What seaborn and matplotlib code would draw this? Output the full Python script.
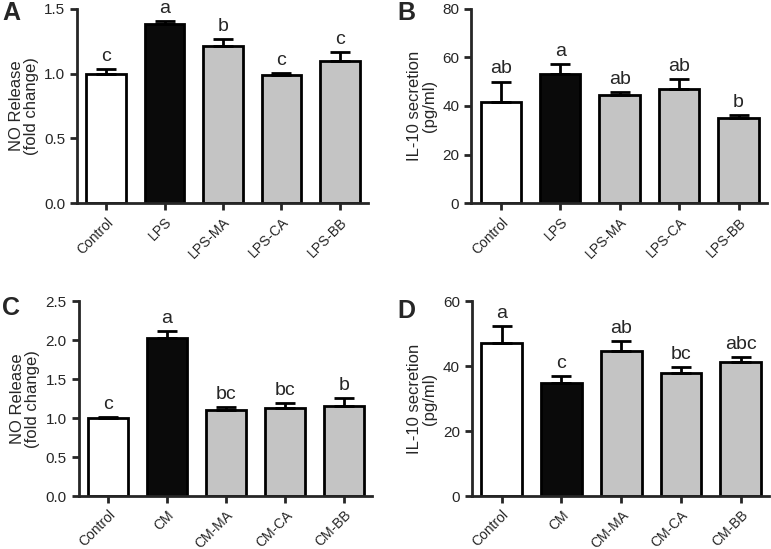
import matplotlib
matplotlib.use("Agg")
import matplotlib.pyplot as plt
import seaborn as sns
import pandas as pd

# panel A / B groups
groups_lps = ["Control", "LPS", "LPS-MA", "LPS-CA", "LPS-BB"]
groups_cm = ["Control", "CM", "CM-MA", "CM-CA", "CM-BB"]

# A: NO release (LPS)
no_lps_mean = [1.00, 1.38, 1.21, 0.99, 1.10]
no_lps_sem = [0.035, 0.027, 0.057, 0.013, 0.068]
no_lps_sig = ["c", "a", "b", "c", "c"]

# B: IL-10 (LPS)
il10_lps_mean = [41.5, 53.3, 44.7, 46.9, 34.9]
il10_lps_sem = [8.5, 4.1, 1.0, 4.2, 1.4]
il10_lps_sig = ["ab", "a", "ab", "ab", "b"]

# C: NO release (CM)
no_cm_mean = [1.00, 2.03, 1.10, 1.13, 1.16]
no_cm_sem = [0.015, 0.09, 0.04, 0.06, 0.10]
no_cm_sig = ["c", "a", "bc", "bc", "b"]

# D: IL-10 (CM)
il10_cm_mean = [47.1, 34.9, 44.5, 37.9, 41.2]
il10_cm_sem = [5.2, 1.9, 3.2, 1.8, 1.7]
il10_cm_sig = ["a", "c", "ab", "bc", "abc"]

bar_colors = ["white", "#0a0a0a", "#c4c4c4", "#c4c4c4", "#c4c4c4"]

sns.set_style("ticks")
plt.rcParams["font.family"] = ["Liberation Sans", "DejaVu Sans"]

fig = plt.figure(figsize=(7.71, 5.49), dpi=100)


def panel(rect, groups, means, sems, sigs, ylim, yticks, ylabel, letter, letter_pos):
    ax = fig.add_axes(rect)
    df = pd.DataFrame({"group": groups, "value": means})
    sns.barplot(data=df, x="group", y="value", hue="group", palette=bar_colors,
                order=groups, hue_order=groups, legend=False, width=0.68,
                edgecolor="black", linewidth=2, errorbar=None, ax=ax)
    # upper error bars only
    ax.errorbar(range(len(groups)), means, yerr=[[0] * len(sems), sems],
                fmt="none", ecolor="black", elinewidth=2, capsize=7.5,
                capthick=2, zorder=1)
    for i, (m, s, t) in enumerate(zip(means, sems, sigs)):
        ax.annotate(t, (i, m + s), xytext=(0, 3), textcoords="offset points",
                    ha="center", va="bottom", fontsize=14, annotation_clip=False)
    ax.set_xlim(-0.5, 4.48)
    ax.set_ylim(*ylim)
    ax.set_yticks(yticks)
    ax.set_xlabel("")
    ax.set_ylabel(ylabel, fontsize=12, linespacing=1.0)
    sns.despine(ax=ax)
    for sp in ["left", "bottom"]:
        ax.spines[sp].set_linewidth(2)
    ax.tick_params(axis="both", width=2, length=5, labelsize=11)
    ax.set_xticks(range(len(groups)))
    ax.set_xticklabels(groups, rotation=45, ha="right", rotation_mode="anchor",
                       fontsize=10)
    fig.text(letter_pos[0], letter_pos[1], letter, fontsize=18, fontweight="bold",
             ha="left", va="top")
    return ax


yfmt_one = lambda ax: ax.set_yticklabels([f"{v:.1f}" for v in ax.get_yticks()])

ax = panel([0.1, 0.630, 0.377, 0.354], groups_lps, no_lps_mean, no_lps_sem,
           no_lps_sig, (0, 1.5), [0, 0.5, 1.0, 1.5], "NO Release\n(fold change)",
           "A", (0.003, 0.998))
yfmt_one(ax)
panel([0.611, 0.630, 0.384, 0.354], groups_lps, il10_lps_mean, il10_lps_sem,
      il10_lps_sig, (0, 80), [0, 20, 40, 60, 80], "IL-10 secretion\n(pg/ml)",
      "B", (0.515, 0.998))
ax = panel([0.102, 0.0965, 0.381, 0.355], groups_cm, no_cm_mean, no_cm_sem,
           no_cm_sig, (0, 2.5), [0, 0.5, 1.0, 1.5, 2.0, 2.5],
           "NO Release\n(fold change)", "C", (0.003, 0.46))
yfmt_one(ax)
panel([0.612, 0.0965, 0.386, 0.355], groups_cm, il10_cm_mean, il10_cm_sem,
      il10_cm_sig, (0, 60), [0, 20, 40, 60], "IL-10 secretion\n(pg/ml)",
      "D", (0.515, 0.455))

fig.savefig("out.png", dpi=100)
